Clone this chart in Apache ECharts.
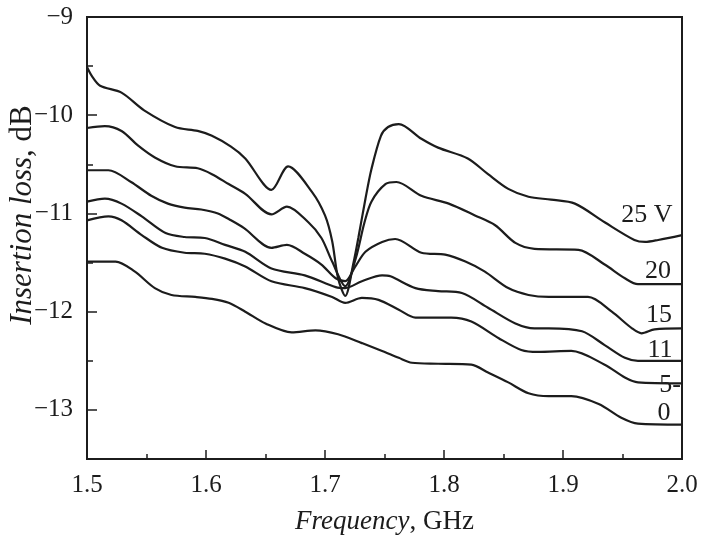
<!DOCTYPE html>
<html>
<head>
<meta charset="utf-8">
<script src="https://cdn.jsdelivr.net/npm/echarts@6/dist/echarts.min.js"></script>
<style>
  html, body { margin: 0; padding: 0; background: #fff; }
  #chart { width: 702px; height: 540px; }
</style>
</head>
<body>
<div id="chart"></div>
<script>
// insertion loss (dB) vs frequency (GHz), one pair of arrays per bias voltage
const freq25 = [1.500, 1.504, 1.511, 1.529, 1.548, 1.574, 1.593, 1.605, 1.621, 1.633, 1.655, 1.669, 1.689, 1.700, 1.706, 1.711, 1.717, 1.724, 1.728, 1.734, 1.739, 1.747, 1.753, 1.762, 1.781, 1.795, 1.820, 1.837, 1.854, 1.871, 1.890, 1.910, 1.935, 1.960, 1.969, 1.980, 2.000]
const loss25 = [-9.51, -9.60, -9.70, -9.77, -9.95, -10.12, -10.16, -10.21, -10.32, -10.44, -10.76, -10.52, -10.78, -11.02, -11.28, -11.66, -11.84, -11.50, -11.25, -10.85, -10.55, -10.21, -10.12, -10.09, -10.24, -10.33, -10.44, -10.60, -10.75, -10.83, -10.86, -10.90, -11.09, -11.27, -11.29, -11.27, -11.22]

const freq20 = [1.500, 1.515, 1.529, 1.543, 1.557, 1.574, 1.593, 1.605, 1.619, 1.633, 1.655, 1.668, 1.686, 1.697, 1.706, 1.717, 1.726, 1.733, 1.739, 1.751, 1.760, 1.781, 1.804, 1.826, 1.843, 1.860, 1.876, 1.913, 1.935, 1.952, 1.963, 2.000]
const loss20 = [-10.13, -10.11, -10.16, -10.31, -10.43, -10.52, -10.54, -10.60, -10.70, -10.80, -11.01, -10.93, -11.09, -11.25, -11.49, -11.74, -11.45, -11.10, -10.88, -10.70, -10.68, -10.82, -10.90, -11.02, -11.12, -11.30, -11.36, -11.37, -11.52, -11.66, -11.72, -11.72]

const freq15 = [1.500, 1.518, 1.537, 1.554, 1.568, 1.582, 1.596, 1.610, 1.621, 1.632, 1.655, 1.668, 1.683, 1.697, 1.709, 1.717, 1.725, 1.734, 1.748, 1.759, 1.781, 1.801, 1.818, 1.834, 1.854, 1.871, 1.888, 1.921, 1.941, 1.958, 1.966, 1.977, 2.000]
const loss15 = [-10.56, -10.56, -10.68, -10.82, -10.90, -10.94, -10.96, -11.00, -11.07, -11.15, -11.35, -11.32, -11.41, -11.52, -11.66, -11.69, -11.55, -11.39, -11.29, -11.26, -11.40, -11.42, -11.49, -11.59, -11.76, -11.83, -11.85, -11.85, -12.00, -12.17, -12.22, -12.18, -12.17]

const freq11 = [1.500, 1.515, 1.529, 1.546, 1.566, 1.582, 1.599, 1.616, 1.633, 1.655, 1.683, 1.709, 1.717, 1.731, 1.748, 1.755, 1.776, 1.795, 1.815, 1.837, 1.860, 1.876, 1.888, 1.916, 1.935, 1.952, 1.963, 2.000]
const loss11 = [-10.88, -10.85, -10.90, -11.03, -11.20, -11.24, -11.25, -11.32, -11.39, -11.56, -11.63, -11.75, -11.76, -11.69, -11.63, -11.64, -11.76, -11.79, -11.81, -11.96, -12.12, -12.17, -12.17, -12.20, -12.34, -12.47, -12.50, -12.50]

const freq5 = [1.500, 1.518, 1.529, 1.546, 1.563, 1.582, 1.599, 1.616, 1.633, 1.655, 1.683, 1.706, 1.717, 1.731, 1.745, 1.762, 1.776, 1.806, 1.823, 1.846, 1.865, 1.879, 1.907, 1.935, 1.952, 1.963, 2.000]
const loss5 = [-11.07, -11.03, -11.07, -11.22, -11.35, -11.40, -11.41, -11.46, -11.54, -11.69, -11.76, -11.85, -11.91, -11.86, -11.88, -11.98, -12.06, -12.06, -12.10, -12.27, -12.39, -12.41, -12.40, -12.54, -12.67, -12.72, -12.73]

const freq0 = [1.500, 1.524, 1.540, 1.557, 1.571, 1.591, 1.605, 1.619, 1.633, 1.650, 1.672, 1.692, 1.711, 1.731, 1.748, 1.762, 1.773, 1.795, 1.823, 1.837, 1.854, 1.871, 1.888, 1.907, 1.930, 1.949, 1.963, 2.000]
const loss0 = [-11.49, -11.49, -11.59, -11.76, -11.83, -11.85, -11.87, -11.91, -12.00, -12.12, -12.21, -12.19, -12.23, -12.32, -12.40, -12.47, -12.52, -12.53, -12.54, -12.62, -12.72, -12.83, -12.86, -12.86, -12.94, -13.08, -13.14, -13.15]

const curveNames = ['25 V', '20', '15', '11', '5', '0']
const yLabelValues = [-13, -12, -11, -10, -9]

const font = 'Liberation Serif'
const ink = '#1c1c1c'

function pairs(xs, ys) {
  return xs.map((x, i) => [x, ys[i]])
}

const curves = [
  pairs(freq25, loss25),
  pairs(freq20, loss20),
  pairs(freq15, loss15),
  pairs(freq11, loss11),
  pairs(freq5, loss5),
  pairs(freq0, loss0)
]

// curve labels sit next to the right-hand ends
const labelSpots = [
  { text: '25 V', x: 647, y: 215 },
  { text: '20', x: 658, y: 271 },
  { text: '15', x: 659, y: 315 },
  { text: '11', x: 660, y: 350 },
  { text: '5-', x: 670, y: 385 },
  { text: '0', x: 664, y: 413 }
]

const chart = echarts.init(document.getElementById('chart'))

const option = {
  animation: false,
  backgroundColor: '#fff',
  grid: {
    left: 87,
    right: 20,
    top: 17,
    bottom: 79,
    show: true,
    borderColor: ink,
    borderWidth: 2
  },
  xAxis: {
    type: 'value',
    min: 1.5,
    max: 2.0,
    interval: 0.1,
    name: '{i|Frequency}, GHz',
    nameLocation: 'middle',
    nameGap: 49,
    nameTextStyle: {
      fontFamily: font,
      fontSize: 27,
      color: ink,
      rich: { i: { fontStyle: 'italic', fontFamily: font, fontSize: 27, color: ink } }
    },
    axisLine: { lineStyle: { color: ink, width: 2 } },
    axisTick: { inside: true, length: 9, lineStyle: { color: ink, width: 1.5 } },
    minorTick: { show: true, splitNumber: 2, length: 5, lineStyle: { color: ink, width: 1.5 } },
    splitLine: { show: false },
    axisLabel: {
      margin: 14,
      fontFamily: font,
      fontSize: 25,
      color: ink,
      formatter: v => v.toFixed(1)
    }
  },
  yAxis: [
    {
      type: 'value',
      min: -13.5,
      max: -9,
      interval: 0.5,
      axisLine: { lineStyle: { color: ink, width: 2 } },
      axisTick: { inside: true, length: 6, lineStyle: { color: ink, width: 1.5 } },
      splitLine: { show: false },
      axisLabel: {
        margin: 14,
        fontFamily: font,
        fontSize: 25,
        color: ink,
        customValues: yLabelValues,
        formatter: v => '\u2212' + Math.abs(v)
      }
    },
    {
      type: 'value',
      min: -13.5,
      max: -9,
      position: 'left',
      axisLine: { show: false },
      axisTick: { show: true, inside: true, length: 10, customValues: yLabelValues, lineStyle: { color: ink, width: 1.5 } },
      axisLabel: { show: false },
      splitLine: { show: false }
    }
  ],
  series: curves.map((data, i) => ({
    name: curveNames[i],
    type: 'line',
    yAxisIndex: 0,
    data: data,
    smooth: 0.3,
    showSymbol: false,
    lineStyle: { color: ink, width: 2.2 }
  })),
  graphic: [
    {
      type: 'text',
      x: 23,
      y: 215,
      rotation: Math.PI / 2,
      style: {
        text: '{i|Insertion loss}, dB',
        fontFamily: font,
        fontSize: 31,
        fill: ink,
        align: 'center',
        verticalAlign: 'middle',
        rich: { i: { fontStyle: 'italic', fontFamily: font, fontSize: 31, fill: ink } }
      }
    }
  ].concat(labelSpots.map(s => ({
    type: 'text',
    x: s.x,
    y: s.y,
    style: {
      text: s.text,
      fontFamily: font,
      fontSize: 26,
      fill: ink,
      align: 'center',
      verticalAlign: 'middle'
    }
  })))
}

chart.setOption(option)
</script>
</body>
</html>
